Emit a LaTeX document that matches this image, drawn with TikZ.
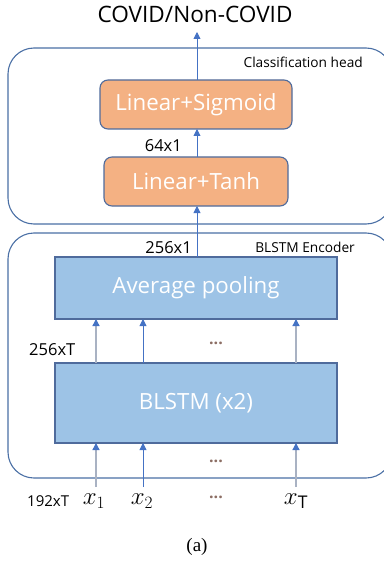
\documentclass[tikz,border=0pt]{standalone}
\usepackage{fontspec}
\setmainfont{Open Sans}
\newfontfamily\serifa{Liberation Serif}
\usetikzlibrary{arrows.meta}
\definecolor{orfill}{HTML}{F4B183}
\definecolor{blfill}{HTML}{9DC3E6}
\definecolor{bord}{HTML}{4F6B9C}
\definecolor{outer}{HTML}{4A6FA5}
\definecolor{arrb}{HTML}{4472C4}
\definecolor{arrg}{HTML}{A9B2C3}
\definecolor{dotc}{HTML}{8C6E64}
\begin{document}
\begin{tikzpicture}[x=1pt,y=-1pt,
  outerbox/.style={draw=outer,line width=1.1pt,rounded corners=26pt},
  orbox/.style={draw=bord,fill=orfill,line width=1.1pt,rounded corners=8pt},
  blbox/.style={draw=bord,fill=blfill,line width=1.1pt},
  boxtxt/.style={text=white,font=\fontsize{22.3}{24}\selectfont},
  arr/.style={draw=arrb,line width=0.9pt,-{Triangle[length=7pt,width=7pt,fill=arrb]}},
  garr/.style={draw=arrg,line width=1.3pt,-{Triangle[length=7pt,width=7pt,color=arrb]}},
  lbl/.style={font=\fontsize{16.5}{18}\selectfont,inner sep=0pt},
  small/.style={font=\fontsize{13.7}{15}\selectfont,inner sep=0pt},
  dots/.style={text=dotc,font=\fontsize{16}{16}\selectfont\bfseries,inner sep=0pt}]
\useasboundingbox (0,0) rectangle (383,561);
% outer containers
\draw[outerbox] (8,48) rectangle (392,224);
\draw[outerbox] (8,233) rectangle (392,478);
\node[small,anchor=east] (clh) at (363,62) {Classification head};
\node[small,anchor=east] (enc) at (355,247) {BLSTM Encoder};
% boxes
\draw[orbox] (100,80) rectangle (292,129);
\node[boxtxt] (sig) at (196,104.5) {Linear+Sigmoid};
\coordinate (sigT) at (197,80); \coordinate (sigB) at (197,129);
\draw[orbox] (104,157) rectangle (288,206);
\node[boxtxt] (tanh) at (196,181.5) {Linear+Tanh};
\coordinate (tanhT) at (197,157); \coordinate (tanhB) at (197,206);
\draw[blbox] (55,257) rectangle (337,319);
\node[boxtxt] (avg) at (196,288) {Average pooling};
\coordinate (avgT) at (197,257);
\draw[blbox] (55,363) rectangle (337,443);
\node[boxtxt] (blstm) at (196,403) {BLSTM (x2)};
% output
\node[font=\fontsize{22.6}{24}\selectfont,inner sep=0pt] (out) at (195,14) {COVID/Non-COVID};
\coordinate (outB) at (197,32);
\draw[arr] (sigT) -- (outB);
\draw[arr] (tanhT) -- (sigB);
\draw[arr] (avgT) -- (tanhB);
\node[lbl,anchor=east] (l64) at (182,146) {64x1};
\node[lbl,anchor=east] (l256) at (192,248) {256x1};
\node[lbl,anchor=west] (l256T) at (29,350) {256xT};
% internal arrows
\foreach \x/\s/\n in {96/garr/a,143/arr/b,296/garr/c}{
  \coordinate (up\n) at (\x,363); \coordinate (ut\n) at (\x,319);
  \draw[\s] (up\n) -- (ut\n);
  \coordinate (in\n) at (\x,487); \coordinate (it\n) at (\x,443);
  \draw[\s] (in\n) -- (it\n);
}
\node[dots] (d1) at (216,343) {...};
\node[dots] (d2) at (216,461) {...};
\node[dots] (d3) at (216,497) {...};
% inputs
\node[font=\fontsize{15}{17}\selectfont,inner sep=0pt,anchor=west] (l192) at (27,501) {192xT};
\node[font=\fontsize{25}{27}\selectfont,inner sep=0pt] (x1) at (94,501) {$x_1$};
\node[font=\fontsize{25}{27}\selectfont,inner sep=0pt] (x2) at (142,501) {$x_2$};
\node[font=\fontsize{25}{27}\selectfont,inner sep=0pt] (xT) at (296,501) {$x_{\mathrm{T}}$};
\node[font=\fontsize{19}{21}\selectfont\serifa,inner sep=0pt] (cap) at (197,547) {(a)};
\end{tikzpicture}
\end{document}
